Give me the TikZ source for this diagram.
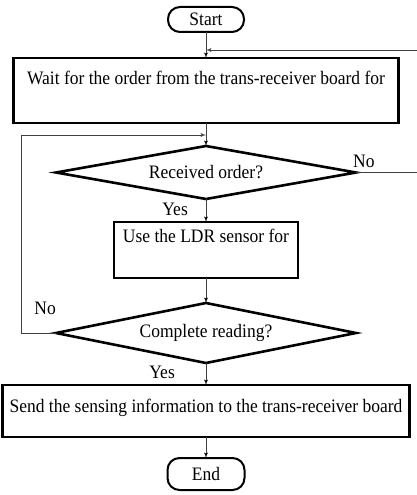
\documentclass[tikz,border=0pt]{standalone}
\usepackage{fontspec}
\setmainfont[FakeStretch=0.92]{Liberation Serif}
\usepackage{tikz}
\usetikzlibrary{shapes}
\usetikzlibrary{positioning,arrows}

\tikzset{
  term/.style={draw, line width=2pt, rounded corners=12pt, minimum width=76pt, inner sep=2pt, outer sep=0pt},
  proc/.style={draw, line width=2.6pt, rectangle, inner sep=2pt, outer sep=0pt, text height=12.5pt},
  decision/.style={draw, line width=2.6pt, diamond, aspect=5.6, inner sep=0pt, outer sep=0pt, minimum width=300pt},
  lbl/.style={inner sep=3pt},
  flow/.style={->, line width=0.9pt, draw=black!75}
}

\begin{document}
\begin{tikzpicture}[x=1pt, y=-1pt, >=latex', font=\fontsize{19}{22}\selectfont]
        \useasboundingbox (0,0) rectangle (417,495);

        \node[term, minimum height=25pt] (start) at (206,19.5) {Start};
        \node[proc, minimum width=385pt, minimum height=65pt, text depth=25pt] (wait) [below=26pt of start] {Wait for the order from the trans-receiver board for};
        \node[decision, minimum height=53pt] (recv) [below=23pt of wait] {Received order?};
        \node[proc, minimum width=184pt, minimum height=56pt, text depth=28pt] (use) [below=23pt of recv] {Use the LDR sensor for};
        \node[decision, minimum height=60pt] (comp) [below=25pt of use] {Complete reading?};
        \node[proc, minimum width=407pt, minimum height=52pt, text depth=10pt] (send) [below=22pt of comp] {Send the sensing information to the trans-receiver board};
        \node[term, minimum width=77pt, minimum height=32pt] (end) [below=21pt of send] {End};

        \coordinate (join1) at ([yshift=-18pt]start.south);
        \coordinate (join2) at ([yshift=-12pt]wait.south);

        \path[flow] (start) edge (wait)
        (wait) edge (recv)
        (recv) edge (use)
        (use) edge (comp)
        (comp) edge (send)
        (send) edge (end);

        % loops back
        \draw[flow] (recv.east) -- ++(65pt,0) |- (join1);
        \draw[flow] (comp.west) -- ++(-35pt,0) |- (join2);

        \node[lbl, above right=2pt and -6pt of recv.east] (no1) {No};
        \node[lbl, below left=1pt and 15pt of recv.south] (yes1) {Yes};
        \node[lbl, above left=15pt and -3pt of comp.west] (no2) {No};
        \node[lbl, below left=0pt and 28pt of comp.south] (yes2) {Yes};
      \end{tikzpicture}
\end{document}
